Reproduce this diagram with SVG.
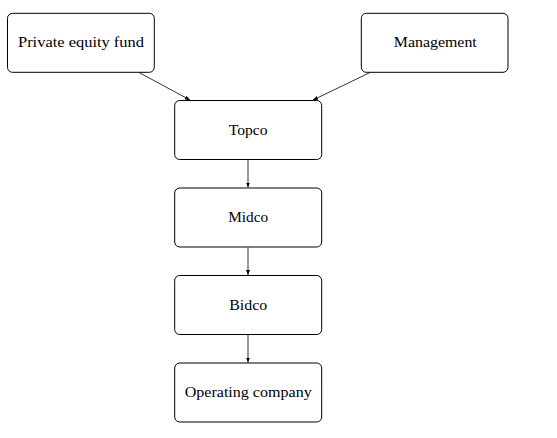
<svg xmlns="http://www.w3.org/2000/svg" width="557" height="438" viewBox="0 0 557 438">
<style>
.box{fill:#fff;stroke:#000;stroke-width:1}
.lbl{font-family:"Liberation Serif","DejaVu Serif",serif;font-size:15.5px;text-anchor:middle;fill:#000}
.edge{stroke:#000;stroke-width:0.8;fill:none;marker-end:url(#ah)}
</style>
<defs>
<marker id="ah" viewBox="0 0 10 10" refX="10" refY="5" markerWidth="5" markerHeight="5" markerUnits="userSpaceOnUse" orient="auto">
<path d="M0,1 L10,5 L0,9 Z" fill="#000"/>
</marker>
</defs>
<rect width="557" height="438" fill="#fff"/>
<g id="connectors">
<line class="edge" x1="139" y1="72.5" x2="190" y2="100"/>
<line class="edge" x1="370" y1="72.5" x2="313" y2="100"/>
<line class="edge" x1="248" y1="160" x2="248" y2="187.5"/>
<line class="edge" x1="248" y1="247.5" x2="248" y2="275"/>
<line class="edge" x1="248" y1="335" x2="248" y2="362.5"/>
</g>
<g id="pe"><rect class="box" x="7.5" y="13.3" width="146.8" height="59" rx="5"/><text class="lbl" x="81" y="47.3" textLength="126" lengthAdjust="spacingAndGlyphs">Private equity fund</text></g>
<g id="management"><rect class="box" x="361.3" y="13.3" width="146.7" height="59" rx="5"/><text class="lbl" x="435.3" y="47.3" textLength="83" lengthAdjust="spacingAndGlyphs">Management</text></g>
<g id="topco"><rect class="box" x="174.7" y="100.5" width="147" height="59" rx="5"/><text class="lbl" x="248.2" y="134.8" textLength="39" lengthAdjust="spacingAndGlyphs">Topco</text></g>
<g id="midco"><rect class="box" x="174.7" y="188" width="147" height="59" rx="5"/><text class="lbl" x="248.2" y="222.3" textLength="40" lengthAdjust="spacingAndGlyphs">Midco</text></g>
<g id="bidco"><rect class="box" x="174.7" y="275.5" width="147" height="59" rx="5"/><text class="lbl" x="248.2" y="309.8" textLength="38" lengthAdjust="spacingAndGlyphs">Bidco</text></g>
<g id="opco"><rect class="box" x="174.7" y="363" width="147" height="59" rx="5"/><text class="lbl" x="248.2" y="397.3" textLength="127" lengthAdjust="spacingAndGlyphs">Operating company</text></g>
</svg>
